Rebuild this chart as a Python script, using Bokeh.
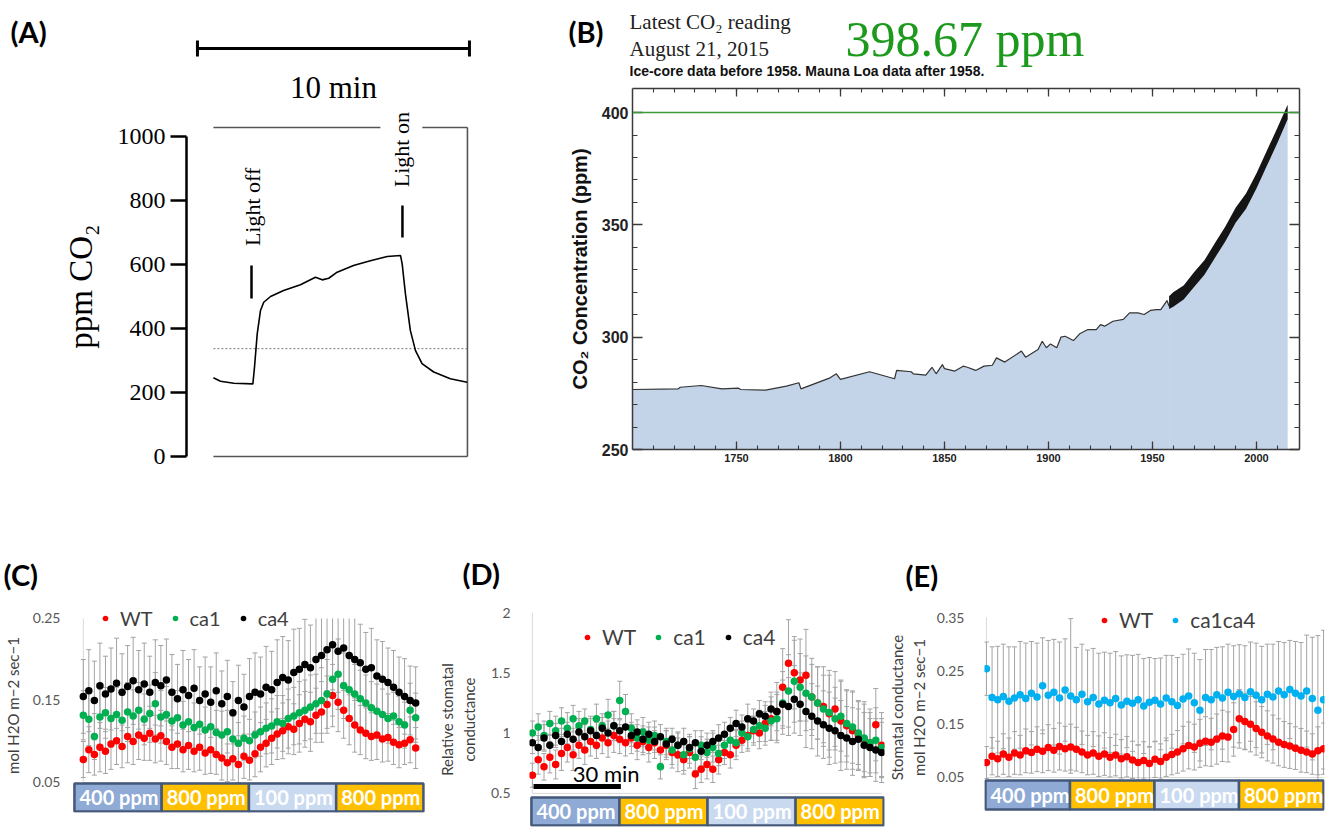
import math
from bokeh.plotting import figure
from bokeh.models import Range1d, LinearAxis, FixedTicker, Legend, LegendItem, Span
from bokeh.layouts import row, column
from bokeh.embed import file_html
from bokeh.resources import INLINE
from bokeh.core.properties import value

# ---------------- Panel A data ----------------
a_time_min = [0.0, 0.26, 0.75, 1.45, 1.51, 1.61, 1.73, 1.85, 2.10, 2.58,
              3.20, 3.75, 4.00, 4.24, 4.55, 5.15, 5.77, 6.39, 6.88, 6.94,
              7.06, 7.24, 7.43, 7.67, 8.10, 8.71, 9.33]
a_ppm = [246, 235, 229, 227, 279, 383, 456, 482, 500, 519,
         537, 560, 552, 557, 576, 597, 612, 625, 628, 602,
         508, 394, 331, 290, 264, 243, 232]
a_ticks = [0, 200, 400, 600, 800, 1000]
a_ambient_ppm = 337
a_events = ["Light off", "Light on"]
a_event_time = [1.40, 6.95]
a_event_mark_lo = [494, 684]
a_event_mark_hi = [597, 784]
a_event_text_time = [1.43, 6.91]
a_event_text_ppm = [780, 959]
a_scale_len_min = 10

# ---------------- Panel B data ----------------
ice_year = [1700, 1722, 1723, 1733, 1743, 1751, 1752, 1764, 1774, 1780,
            1781, 1795, 1798, 1800, 1814, 1826, 1827, 1834, 1835, 1841,
            1844, 1846, 1849, 1850, 1855, 1859, 1861, 1865, 1869, 1873,
            1875, 1879, 1887, 1889, 1895, 1897, 1899, 1901, 1904, 1906,
            1908, 1912, 1915, 1919, 1923, 1925, 1927, 1931, 1936, 1939,
            1943, 1946, 1949, 1952, 1954, 1957, 1958]
ice_ppm = [276.7, 277.0, 277.7, 278.5, 277.0, 277.3, 276.7, 276.4, 278.2, 279.7,
           277.0, 281.9, 283.7, 281.2, 284.6, 281.5, 285.2, 284.6, 283.7, 283.1,
           286.6, 283.7, 287.8, 286.0, 284.9, 287.1, 286.6, 285.2, 287.1, 287.5,
           290.8, 288.9, 293.8, 291.1, 294.5, 298.2, 295.3, 297.0, 295.3, 300.0,
           300.4, 298.5, 301.5, 303.4, 303.4, 305.6, 304.9, 307.1, 307.9, 310.8,
           310.8, 310.1, 311.9, 312.3, 312.3, 316.3, 313.8]
ml_year = [1958, 1960, 1965, 1970, 1975, 1980, 1985, 1990, 1995, 2000, 2005, 2010, 2015]
ml_low = [312.5, 313.6, 316.8, 322.3, 327.8, 335.3, 342.6, 350.9, 357.2, 366.2, 376.3, 386.3, 397.0]
ml_high = [318.2, 320.0, 323.0, 328.9, 334.2, 341.8, 349.2, 357.6, 364.0, 372.9, 383.0, 393.0, 403.5]
b_year_ticks = [1750, 1800, 1850, 1900, 1950, 2000]
b_ppm_ticks = [250, 300, 350, 400]
b_latest_reading = "398.67 ppm"
b_reference_ppm = 400

# ---------------- Panels C-E data ----------------
t_min = list(range(0, 121, 2))
phase_labels = ["400 ppm", "800 ppm", "100 ppm", "800 ppm"]
phase_colors = ["#8eaad5", "#ffc000", "#c9d9f0", "#ffc000"]

c_wt = [0.078, 0.090, 0.084, 0.093, 0.088, 0.097, 0.101, 0.094, 0.106, 0.100,
        0.108, 0.104, 0.110, 0.103, 0.107, 0.100, 0.093, 0.097, 0.090, 0.095,
        0.088, 0.093, 0.086, 0.090, 0.084, 0.080, 0.074, 0.079, 0.072, 0.082,
        0.077, 0.085, 0.093, 0.098, 0.104, 0.109, 0.113, 0.118, 0.115, 0.122,
        0.127, 0.124, 0.132, 0.136, 0.145, 0.156, 0.148, 0.138, 0.128, 0.120,
        0.114, 0.110, 0.106, 0.108, 0.103, 0.105, 0.099, 0.096, 0.098, 0.102,
        0.092]
c_ca1 = [0.132, 0.127, 0.106, 0.130, 0.135, 0.128, 0.133, 0.126, 0.136, 0.131,
         0.138, 0.127, 0.134, 0.146, 0.130, 0.133, 0.125, 0.129, 0.120, 0.124,
         0.117, 0.121, 0.114, 0.118, 0.111, 0.108, 0.112, 0.103, 0.098, 0.104,
         0.101, 0.108, 0.112, 0.116, 0.119, 0.124, 0.122, 0.128, 0.131, 0.135,
         0.138, 0.142, 0.146, 0.150, 0.158, 0.176, 0.182, 0.168, 0.163, 0.158,
         0.152, 0.147, 0.141, 0.137, 0.133, 0.128, 0.131, 0.124, 0.120, 0.138,
         0.129]
c_ca4 = [0.155, 0.162, 0.150, 0.168, 0.158, 0.164, 0.171, 0.160, 0.167, 0.174,
         0.163, 0.170, 0.160, 0.172, 0.168, 0.175, 0.160, 0.152, 0.163, 0.156,
         0.165, 0.150, 0.158, 0.148, 0.162, 0.146, 0.155, 0.135, 0.150, 0.142,
         0.155, 0.160, 0.158, 0.166, 0.163, 0.172, 0.178, 0.175, 0.184, 0.188,
         0.194, 0.190, 0.200, 0.205, 0.212, 0.218, 0.210, 0.214, 0.205, 0.200,
         0.196, 0.188, 0.190, 0.180, 0.176, 0.172, 0.166, 0.160, 0.155, 0.150,
         0.147]
c_wt_err = [0.022, 0.028, 0.025, 0.030, 0.027, 0.031, 0.029, 0.026, 0.032, 0.028,
            0.030, 0.027, 0.033, 0.029, 0.031, 0.028, 0.026, 0.030, 0.027, 0.029,
            0.025, 0.028, 0.026, 0.029, 0.024, 0.027, 0.023, 0.026, 0.022, 0.027,
            0.024, 0.028, 0.030, 0.029, 0.032, 0.031, 0.034, 0.033, 0.031, 0.035,
            0.034, 0.036, 0.033, 0.037, 0.035, 0.038, 0.036, 0.034, 0.032, 0.033,
            0.030, 0.031, 0.029, 0.030, 0.028, 0.029, 0.027, 0.028, 0.026, 0.028,
            0.025]
c_ca1_err = [0.030, 0.032, 0.028, 0.034, 0.031, 0.035, 0.033, 0.030, 0.036, 0.032,
             0.034, 0.031, 0.035, 0.038, 0.032, 0.034, 0.031, 0.033, 0.029, 0.032,
             0.030, 0.031, 0.028, 0.030, 0.027, 0.029, 0.026, 0.028, 0.025, 0.027,
             0.026, 0.028, 0.030, 0.031, 0.033, 0.032, 0.034, 0.036, 0.035, 0.038,
             0.037, 0.039, 0.036, 0.040, 0.042, 0.045, 0.043, 0.040, 0.038, 0.036,
             0.035, 0.034, 0.032, 0.033, 0.031, 0.030, 0.029, 0.031, 0.028, 0.033,
             0.030]
c_ca4_err = [0.045, 0.050, 0.048, 0.052, 0.046, 0.050, 0.055, 0.047, 0.050, 0.053,
             0.048, 0.050, 0.044, 0.052, 0.049, 0.050, 0.046, 0.042, 0.048, 0.044,
             0.047, 0.041, 0.045, 0.043, 0.046, 0.040, 0.044, 0.038, 0.043, 0.040,
             0.046, 0.048, 0.045, 0.050, 0.047, 0.052, 0.050, 0.048, 0.053, 0.050,
             0.055, 0.052, 0.056, 0.053, 0.050, 0.055, 0.050, 0.052, 0.048, 0.050,
             0.047, 0.045, 0.048, 0.044, 0.046, 0.042, 0.045, 0.043, 0.046, 0.042,
             0.044]

d_wt = [0.65, 0.78, 0.72, 0.80, 0.74, 0.83, 0.88, 0.82, 0.90, 0.86,
        0.93, 0.90, 0.96, 0.92, 0.98, 0.95, 0.92, 0.96, 0.90, 0.93,
        0.88, 0.92, 0.86, 0.90, 0.84, 0.82, 0.78, 0.84, 0.66, 0.70,
        0.74, 0.70, 0.78, 0.84, 0.82, 0.90, 0.94, 0.98, 1.02, 1.00,
        1.08, 1.12, 1.18, 1.38, 1.58, 1.50, 1.44, 1.48, 1.30, 1.25,
        1.22, 1.16, 1.20, 1.10, 1.06, 1.02, 0.98, 0.95, 0.92, 1.07,
        0.90]
d_ca1 = [1.00, 1.05, 0.98, 1.08, 1.02, 1.10, 1.04, 1.12, 1.06, 1.10,
         1.03, 1.12, 1.06, 1.15, 1.06, 1.27, 1.18, 1.04, 0.96, 1.01,
         0.94, 0.98, 0.72, 0.93, 0.86, 0.90, 0.82, 0.87, 0.80, 0.90,
         0.84, 0.88, 0.83, 0.90, 0.94, 0.92, 1.00, 0.97, 1.03, 1.06,
         1.04, 1.10, 1.12, 1.25, 1.35, 1.43, 1.38, 1.33, 1.30, 1.25,
         1.20, 1.17, 1.12, 1.14, 1.08, 1.05, 1.00, 0.96, 0.92, 0.94,
         0.88]
d_ca4 = [0.92, 0.88, 0.96, 0.90, 0.98, 0.93, 0.99, 0.95, 1.01, 0.97,
         1.02, 0.98, 1.04, 1.00, 1.06, 1.02, 1.05, 0.98, 1.01, 0.95,
         0.99, 0.93, 0.97, 0.91, 0.95, 0.90, 0.93, 0.88, 0.92, 0.85,
         0.90, 0.93, 0.96, 0.99, 1.04, 1.08, 1.05, 1.12, 1.10, 1.16,
         1.14, 1.20, 1.18, 1.24, 1.22, 1.28, 1.24, 1.18, 1.14, 1.10,
         1.07, 1.04, 1.02, 0.98, 0.96, 0.93, 0.95, 0.90, 0.88, 0.86,
         0.84]
d_wt_err = [0.10, 0.12, 0.11, 0.13, 0.12, 0.14, 0.12, 0.13, 0.11, 0.12,
            0.12, 0.11, 0.13, 0.12, 0.14, 0.12, 0.11, 0.13, 0.12, 0.11,
            0.12, 0.13, 0.11, 0.12, 0.13, 0.14, 0.12, 0.13, 0.12, 0.11,
            0.12, 0.11, 0.12, 0.10, 0.11, 0.12, 0.10, 0.11, 0.12, 0.13,
            0.15, 0.18, 0.24, 0.32, 0.36, 0.30, 0.34, 0.38, 0.32, 0.30,
            0.33, 0.36, 0.31, 0.34, 0.30, 0.32, 0.29, 0.31, 0.28, 0.30,
            0.27]
d_ca1_err = [0.10, 0.11, 0.12, 0.10, 0.12, 0.11, 0.13, 0.11, 0.12, 0.10,
             0.11, 0.12, 0.10, 0.13, 0.12, 0.16, 0.14, 0.12, 0.11, 0.12,
             0.11, 0.12, 0.10, 0.11, 0.12, 0.11, 0.13, 0.12, 0.11, 0.12,
             0.11, 0.12, 0.10, 0.11, 0.12, 0.11, 0.10, 0.12, 0.11, 0.13,
             0.14, 0.16, 0.20, 0.26, 0.30, 0.34, 0.28, 0.31, 0.27, 0.30,
             0.28, 0.31, 0.26, 0.29, 0.27, 0.30, 0.26, 0.28, 0.25, 0.27,
             0.24]
d_ca4_err = [0.09, 0.10, 0.11, 0.09, 0.10, 0.11, 0.10, 0.09, 0.11, 0.10,
             0.10, 0.11, 0.09, 0.10, 0.12, 0.10, 0.11, 0.09, 0.10, 0.11,
             0.10, 0.09, 0.10, 0.11, 0.09, 0.10, 0.11, 0.09, 0.10, 0.12,
             0.10, 0.09, 0.11, 0.10, 0.09, 0.11, 0.10, 0.12, 0.10, 0.11,
             0.12, 0.14, 0.16, 0.20, 0.24, 0.28, 0.26, 0.30, 0.27, 0.29,
             0.28, 0.30, 0.27, 0.29, 0.26, 0.28, 0.25, 0.27, 0.24, 0.26,
             0.25]

e_wt = [0.078, 0.090, 0.085, 0.094, 0.088, 0.096, 0.092, 0.100, 0.097, 0.103,
        0.099, 0.106, 0.101, 0.108, 0.104, 0.107, 0.103, 0.098, 0.092, 0.096,
        0.090, 0.094, 0.088, 0.092, 0.085, 0.089, 0.083, 0.078, 0.082, 0.076,
        0.084, 0.080, 0.088, 0.093, 0.098, 0.104, 0.110, 0.107, 0.114, 0.118,
        0.116, 0.122, 0.128, 0.126, 0.140, 0.160, 0.155, 0.150, 0.142, 0.135,
        0.128, 0.122, 0.116, 0.112, 0.109, 0.105, 0.101, 0.098, 0.094, 0.100,
        0.104]
e_ca1ca4 = [0.254, 0.200, 0.196, 0.202, 0.193, 0.199, 0.205, 0.198, 0.208, 0.201,
            0.222, 0.204, 0.210, 0.199, 0.214, 0.203, 0.196, 0.206, 0.192, 0.200,
            0.188, 0.195, 0.190, 0.198, 0.186, 0.193, 0.189, 0.196, 0.184, 0.191,
            0.195, 0.188, 0.199, 0.192, 0.185, 0.197, 0.203, 0.190, 0.176, 0.200,
            0.196, 0.205, 0.199, 0.210, 0.202, 0.207, 0.200, 0.211, 0.204, 0.196,
            0.206, 0.201, 0.212, 0.205, 0.215, 0.208, 0.203, 0.212, 0.198, 0.176,
            0.196]
e_wt_err = [0.030, 0.035, 0.033, 0.038, 0.036, 0.040, 0.037, 0.041, 0.039, 0.042,
            0.040, 0.043, 0.041, 0.044, 0.042, 0.043, 0.041, 0.039, 0.037, 0.040,
            0.038, 0.040, 0.037, 0.039, 0.036, 0.038, 0.035, 0.033, 0.035, 0.032,
            0.034, 0.033, 0.036, 0.038, 0.040, 0.042, 0.044, 0.043, 0.045, 0.046,
            0.045, 0.047, 0.048, 0.047, 0.050, 0.055, 0.053, 0.052, 0.050, 0.048,
            0.047, 0.045, 0.044, 0.043, 0.042, 0.040, 0.041, 0.039, 0.038, 0.045,
            0.048]
e_ca1ca4_err = [0.050, 0.095, 0.100, 0.098, 0.102, 0.096, 0.100, 0.104, 0.097, 0.101,
                0.090, 0.103, 0.099, 0.105, 0.096, 0.145, 0.098, 0.094, 0.097, 0.092,
                0.095, 0.090, 0.093, 0.088, 0.092, 0.087, 0.090, 0.085, 0.089, 0.084,
                0.078, 0.086, 0.080, 0.087, 0.090, 0.084, 0.088, 0.093, 0.095, 0.090,
                0.094, 0.089, 0.096, 0.090, 0.095, 0.092, 0.097, 0.093, 0.098, 0.100,
                0.094, 0.099, 0.093, 0.098, 0.092, 0.097, 0.100, 0.105, 0.115, 0.140,
                0.130]

# ---------------- styling / layout constants ----------------
ERR_COLOR = "#a3a3a3"
AXIS_GRAY = "#d9d9d9"
SANS = "Lato"
SERIF = "Liberation Serif"
COMMON = dict(output_backend="svg", toolbar_location=None, frame_align=False)


def blank_fig(width, height, x_rng, y_rng):
    p = figure(width=width, height=height, x_range=Range1d(*x_rng), y_range=Range1d(*y_rng),
               x_axis_type=None, y_axis_type=None, min_border=0, **COMMON)
    p.outline_line_color = None
    return p


def put_text(p, x, y, txt, font, size, color="black", style="normal", align="left"):
    p.text(x=x, y=y, text=txt, text_font=value(font), text_font_style=style,
           text_font_size=size, text_color=color, text_baseline="middle", text_align=align)


def letter(p, txt, x, y):
    put_text(p, [x], [y], [txt], SANS, "29px", style="bold")


# ================= Panel A =================
# header strip (0..553 x 0..110 px) with scale bar; x in minutes, same mapping as the main panel
a_head = blank_fig(553, 110, (-7.831, 12.5), (110, 0))
SB_X0, SB_Y, SB_CAP = -0.59, 48, 8
a_head.segment(x0=[SB_X0, SB_X0, SB_X0 + a_scale_len_min], y0=[SB_Y, SB_Y - SB_CAP, SB_Y - SB_CAP],
               x1=[SB_X0 + a_scale_len_min, SB_X0, SB_X0 + a_scale_len_min], y1=[SB_Y, SB_Y + SB_CAP, SB_Y + SB_CAP],
               line_color="black", line_width=3)
put_text(a_head, [SB_X0 + a_scale_len_min / 2], [87], [f"{a_scale_len_min} min"], SERIF, "31px", align="center")
letter(a_head, "(A)", -7.46, 31)

pa = figure(width=553, height=368, x_range=Range1d(-0.99, 9.82), y_range=Range1d(-18.75, 1081.25),
            x_axis_type=None, y_axis_type=None,
            min_border_left=186, min_border_right=73, min_border_top=0, min_border_bottom=16, **COMMON)
pa.outline_line_color = None
ya = LinearAxis(ticker=FixedTicker(ticks=a_ticks), bounds=(0, 1000), axis_label="ppm CO₂")
ya.axis_line_width = 2.5
ya.major_tick_line_width = 2.5
ya.major_tick_out = 16
ya.major_tick_in = 0
ya.minor_tick_line_color = None
ya.major_label_text_font = SERIF
ya.major_label_text_font_size = "24px"
ya.major_label_text_color = "black"
ya.major_label_standoff = 5
ya.axis_label_text_font = SERIF
ya.axis_label_text_font_size = "33px"
ya.axis_label_text_font_style = "normal"
ya.axis_label_text_color = "black"
ya.axis_label_standoff = 16
pa.add_layout(ya, "left")

A_BOX_END, A_BOX_TOP, A_GAP = 9.34, 1028, (6.14, 7.68)
pa.segment(x0=[0, 0, A_GAP[1], A_BOX_END], y0=[0, A_BOX_TOP, A_BOX_TOP, 0],
           x1=[A_BOX_END, A_GAP[0], A_BOX_END, A_BOX_END], y1=[0, A_BOX_TOP, A_BOX_TOP, A_BOX_TOP],
           line_color="#555555", line_width=1.6)
pa.segment(x0=[0], y0=[a_ambient_ppm], x1=[A_BOX_END], y1=[a_ambient_ppm],
           line_color="#777777", line_width=1, line_dash="2 2")
pa.line(a_time_min, a_ppm, line_color="black", line_width=1.6)
pa.segment(x0=a_event_time, y0=a_event_mark_lo, x1=a_event_time, y1=a_event_mark_hi,
           line_color="black", line_width=2.5)
pa.text(x=a_event_text_time, y=a_event_text_ppm, text=a_events, angle=math.pi / 2,
        text_align="center", text_baseline="middle", text_font=value(SERIF),
        text_font_size="22px", text_color="black")

# ================= Panel B =================
b_head = blank_fig(777, 80, (553, 1330), (80, 0))
letter(b_head, "(B)", 568, 31)
put_text(b_head, [629, 629], [21, 48], ["Latest CO₂ reading", "August 21, 2015"], SERIF, "21px", "#222222")
put_text(b_head, [845], [38], [b_latest_reading], SERIF, "50px", "#1d9a1d")
put_text(b_head, [629], [70], ["Ice-core data before 1958. Mauna Loa data after 1958."],
         "Liberation Sans", "14px", "#111111", style="bold")

pb = figure(width=777, height=398, x_range=Range1d(1700, 2020.7), y_range=Range1d(250, 410.7),
            min_border_left=79, min_border_right=31, min_border_top=8, min_border_bottom=29, **COMMON)
pb.grid.visible = False
pb.outline_line_color = None
pb.add_layout(LinearAxis(), "above")
pb.add_layout(LinearAxis(), "right")
BAX = "#3a3a3a"
for ax in pb.xaxis:
    ax.ticker = FixedTicker(ticks=b_year_ticks, minor_ticks=list(range(1710, 2020, 10)))
    ax.major_tick_in, ax.major_tick_out, ax.minor_tick_in, ax.minor_tick_out = 8, 0, 4, 0
for ax in pb.yaxis:
    ax.ticker = FixedTicker(ticks=b_ppm_ticks, minor_ticks=list(range(260, 410, 10)))
    ax.major_tick_in, ax.major_tick_out, ax.minor_tick_in, ax.minor_tick_out = 10, 0, 5, 0
for ax in list(pb.xaxis) + list(pb.yaxis):
    ax.axis_line_color = BAX
    ax.axis_line_width = 1.5
    ax.major_tick_line_color = BAX
    ax.minor_tick_line_color = BAX
    ax.major_tick_line_width = 1.3
    ax.minor_tick_line_width = 1.1
    ax.major_label_text_font = "Liberation Sans"
    ax.major_label_text_font_style = "bold"
    ax.major_label_text_color = "#222222"
    ax.major_label_standoff = 4
pb.xaxis[0].major_label_text_font_size = "12px"
pb.yaxis[0].major_label_text_font_size = "16px"
for ax in (pb.above[0], pb.right[0]):
    ax.major_label_text_color = None
    ax.major_label_text_font_size = "1px"
    ax.major_label_standoff = 0
yb = pb.yaxis[0]
yb.axis_label = "CO₂ Concentration (ppm)"
yb.axis_label_text_font = "Liberation Sans"
yb.axis_label_text_font_style = "bold"
yb.axis_label_text_font_size = "20px"
yb.axis_label_text_color = "#111111"
yb.axis_label_standoff = 8

FILL = "#c3d4e9"
pb.varea(x=ice_year, y1=250, y2=ice_ppm, fill_color=FILL)
pb.varea(x=ml_year, y1=250, y2=ml_high, fill_color=FILL)
pb.line(ice_year, ice_ppm, line_color="#333333", line_width=1.2)
pb.varea(x=ml_year, y1=ml_low, y2=ml_high, fill_color="#151515")
pb.add_layout(Span(location=b_reference_ppm, dimension="width", line_color="#3c9a3c", line_width=1.6))


# ================= Panels C, D, E =================
def scatter_panel(width, x_rng, y_rng, borders, y_ticks, y_bounds, y_label, tick_standoff, label_standoff,
                  series, errs, colors, names, legend_loc, legend_font, bar_x, bar_y, overrides=None):
    bl, br, bt, bb = borders
    p = figure(width=width, height=229, x_range=Range1d(*x_rng), y_range=Range1d(*y_rng),
               x_axis_type=None, min_border_left=bl, min_border_right=br, min_border_top=bt,
               min_border_bottom=bb, **COMMON)
    p.outline_line_color = None
    p.ygrid.visible = False
    ax = p.yaxis[0]
    ax.ticker = FixedTicker(ticks=y_ticks)
    ax.bounds = y_bounds
    if overrides:
        ax.major_label_overrides = overrides
    ax.axis_line_color = None
    ax.major_tick_line_color = None
    ax.minor_tick_line_color = None
    ax.major_label_text_font = SANS
    ax.major_label_text_font_size = "14px"
    ax.major_label_text_color = "#595959"
    ax.major_label_standoff = tick_standoff
    ax.axis_label = y_label
    ax.axis_label_text_font = SANS
    ax.axis_label_text_font_size = "15px"
    ax.axis_label_text_font_style = "normal"
    ax.axis_label_text_color = "#404040"
    ax.axis_label_standoff = label_standoff

    ymax = y_bounds[1]
    p.segment(x0=[0, 0], y0=[y_bounds[0], y_bounds[0]], x1=[0, t_min[-1]], y1=[ymax, y_bounds[0]],
              line_color=AXIS_GRAY, line_width=1)

    for y, e in zip(series, errs):
        lo = [a - b for a, b in zip(y, e)]
        hi = [min(a + b, ymax) for a, b in zip(y, e)]
        p.segment(x0=t_min, y0=lo, x1=t_min, y1=hi, line_color=ERR_COLOR, line_width=1)
        cap_t = [t for t, a, b in zip(t_min, y, e) if a + b < ymax]
        cap_hi = [a + b for a, b in zip(y, e) if a + b < ymax]
        p.scatter(x=t_min + cap_t, y=lo + cap_hi, marker="dash", size=5, line_color=ERR_COLOR, line_width=1)

    items = []
    for y, c, n in zip(series, colors, names):
        r = p.scatter(x=t_min, y=y, size=7.5, fill_color=c, line_color=None)
        items.append(LegendItem(label=n, renderers=[r]))
    leg = Legend(items=items, location=legend_loc, orientation="horizontal",
                 border_line_color=None, background_fill_alpha=0, padding=0, margin=0,
                 spacing=15, label_standoff=8, glyph_width=14, glyph_height=20, label_height=20,
                 label_text_font=SANS, label_text_font_size=legend_font, label_text_color="#404040")
    p.add_layout(leg)

    seg = (bar_x[1] - bar_x[0]) / len(phase_labels)
    for i, (lab, col) in enumerate(zip(phase_labels, phase_colors)):
        left = bar_x[0] + i * seg
        p.quad(left=[left], right=[left + seg], bottom=[bar_y[0]], top=[bar_y[1]],
               fill_color=col, line_color="#44587a", line_width=2.5)
        p.text(x=[left], y=[(bar_y[0] + bar_y[1]) / 2], text=[lab], x_offset=5,
               text_color="white", text_font=value(SANS), text_font_style="bold",
               text_font_size="20px", text_align="left", text_baseline="middle")
    return p


cde_head = blank_fig(1330, 120, (0, 1330), (598, 478))
letter(cde_head, "(C)", 3, 574)
letter(cde_head, "(D)", 462, 573)
letter(cde_head, "(E)", 905, 575)

pc = scatter_panel(435, (-3.9, 123.55), (0.0134, 0.27439), (66, 10, 0, 15), [0.05, 0.15, 0.25], (0.05, 0.25),
                   "mol H2O m−2 sec−1", 6, 8,
                   [c_wt, c_ca1, c_ca4], [c_wt_err, c_ca1_err, c_ca4_err],
                   ["#ff0000", "#00b050", "#000000"], ["WT", "ca1", "ca4"], (26, 182), "20px",
                   (-3.2, 122.8), (0.0146, 0.0488))

pd_ = scatter_panel(450, (-0.99, 120.99), (0.2255, 2.0), (80, 1, 14, 1), [0.5, 1, 1.5, 2], (0.5, 2.0),
                    "Relative stomatal\nconductance", 13, 10,
                    [d_wt, d_ca1, d_ca4], [d_wt_err, d_ca1_err, d_ca4_err],
                    ["#ff0000", "#00b050", "#000000"], ["WT", "ca1", "ca4"], (51, 177), "21px",
                    (-0.33, 120.7), (0.2347, 0.4668), overrides={1: "1", 2: "2"})
D_SCALE_START, D_SCALE_LEN, D_SCALE_Y = 0.4, 30, 0.558
pd_.segment(x0=[D_SCALE_START], y0=[D_SCALE_Y], x1=[D_SCALE_START + D_SCALE_LEN], y1=[D_SCALE_Y],
            line_color="black", line_width=5)
put_text(pd_, [13.9], [0.662], [f"{D_SCALE_LEN} min"], SANS, "22px")

pe = scatter_panel(445, (-0.694, 120.35), (-0.01566, 0.37813), (90, 6, 4, 15), [0.05, 0.15, 0.25, 0.35],
                   (0.05, 0.35), "Stomatal conductance\nmol H2O m−2 sec−1", 14, 6,
                   [e_wt, e_ca1ca4], [e_wt_err, e_ca1ca4_err],
                   ["#ff0000", "#00b0f0"], ["WT", "ca1ca4"], (113, 180), "21px",
                   (-0.35, 120.0), (-0.01, 0.0444))

layout = column(row(column(a_head, pa), column(b_head, pb)),
                column(cde_head, row(pc, pd_, pe)))
open("out.html", "w").write(file_html(layout, INLINE, title="CO2 and stomatal conductance"))
